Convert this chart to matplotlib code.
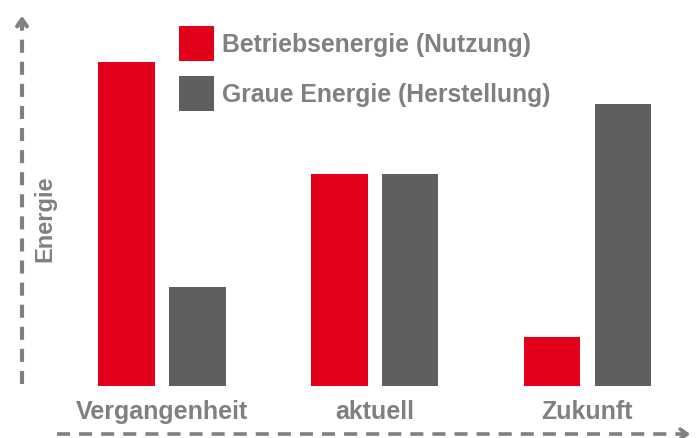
import matplotlib.pyplot as plt
from matplotlib.lines import Line2D
from matplotlib.patches import Rectangle
import numpy as np

plt.rcParams['font.family'] = ['Liberation Sans', 'DejaVu Sans']
plt.rcParams['font.weight'] = 'bold'
plt.rcParams['lines.scale_dashes'] = False

# data (relative energy)
categories = ["Vergangenheit", "aktuell", "Zukunft"]
betrieb = [100, 65.4, 15.1]      # Betriebsenergie (Nutzung)
graue = [30.6, 65.4, 87.0]       # Graue Energie (Herstellung)
series_names = ["Betriebsenergie (Nutzung)", "Graue Energie (Herstellung)"]

red = "#E2001A"
dark = "#5F5F5F"
txt = "#808080"
colors = [red, dark]

W, H = 696, 439
fig = plt.figure(figsize=(W / 100, H / 100), dpi=100)
base_px = 387
ax = fig.add_axes([0, (H - base_px) / H, 1, base_px / H])

x = np.arange(len(categories))
bw = 0.266
off = 0.166
ax.bar(x - off, betrieb, bw, color=red, label=series_names[0])
ax.bar(x + off, graue, bw, color=dark, label=series_names[1])

ax.set_xlim(-162 / 212.75, (W - 162) / 212.75)
ax.set_ylim(0, 100 * base_px / 324)
for s in ax.spines.values():
    s.set_visible(False)
ax.set_yticks([])
ax.set_xticks(x, categories)
ax.tick_params(axis='x', length=0, pad=9.5, labelsize=18, labelcolor=txt)

# legend drawn by hand: square + label, one row each
for i, (name, c) in enumerate(zip(series_names, colors)):
    top = 27 + i * 50
    fig.add_artist(Rectangle((179 / W, 1 - (top + 35) / H), 35 / W, 35 / H,
                             transform=fig.transFigure, color=c, lw=0))
    fig.text(222 / W, 1 - (top + 18) / H, name, ha='left', va='center',
             fontsize=17.8, color=txt)

# y label
fig.text(45 / W, 1 - 219 / H, "Energie", rotation=90, ha='center', va='center',
         fontsize=17, color=txt)

# dashed axis arrows
fig.add_artist(Line2D([22 / W, 22 / W], [1 - 385 / H, 1 - 26 / H], color=txt, lw=3,
                      linestyle=(0, (9.4, 6.5))))
ax.annotate("", xy=(22, H - 14), xytext=(22, H - 28), xycoords='figure pixels',
            textcoords='figure pixels',
            arrowprops=dict(arrowstyle='->,head_length=0.5,head_width=0.35', color=txt, lw=3))
fig.add_artist(Line2D([57 / W, 682 / W], [1 - 435 / H, 1 - 435 / H], color=txt, lw=2.6,
                      linestyle=(0, (9.4, 6.5))))
ax.annotate("", xy=(693, H - 435), xytext=(679, H - 435), xycoords='figure pixels',
            textcoords='figure pixels',
            arrowprops=dict(arrowstyle='->,head_length=0.5,head_width=0.35', color=txt, lw=2.6))

fig.savefig("out.png", dpi=100)
